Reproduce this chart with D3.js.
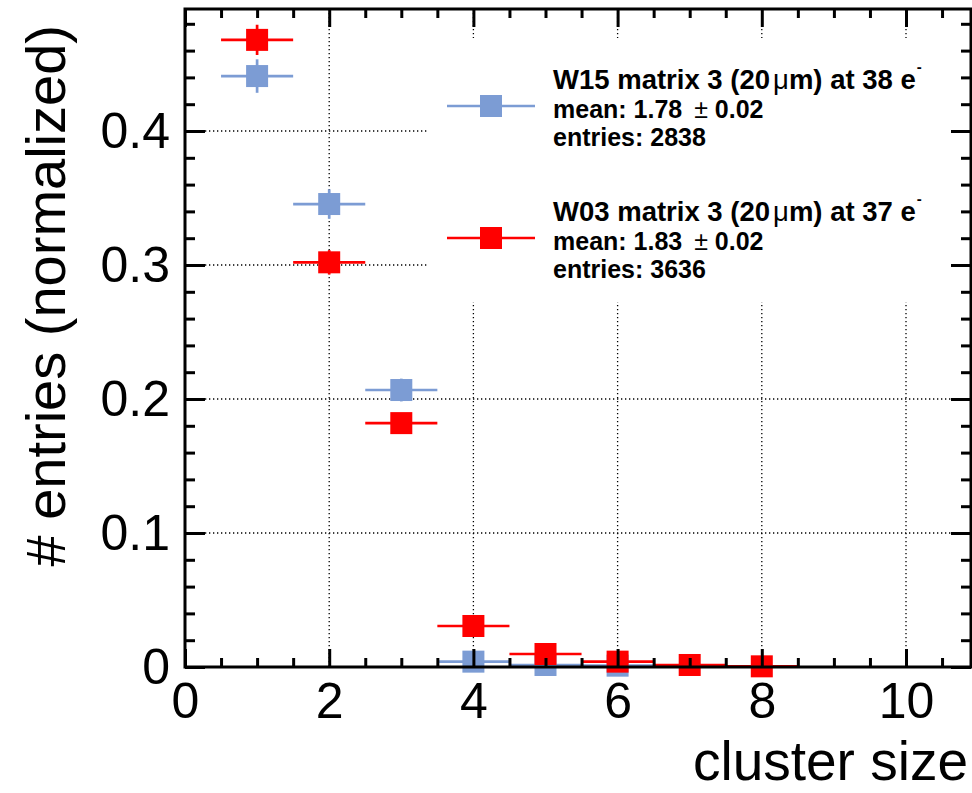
<!DOCTYPE html>
<html>
<head>
<meta charset="utf-8">
<script src="https://cdn.jsdelivr.net/npm/d3@7"></script>
<style>
  html, body { margin: 0; padding: 0; background: #fff; }
  svg { display: block; }
  text { font-family: "Liberation Sans", Arial, Helvetica, sans-serif; fill: #000; }
</style>
</head>
<body>
<div id="chart"></div>
<script>
// ---------------- data ----------------
const w15Sizes  = [1, 2, 3, 4, 5, 6];
const w15Values = [0.441, 0.3455, 0.2067, 0.0040, 0.0015, 0.0010];
const w15Errors = [0.0125, 0.0110, 0.0085, 0.0012, 0.0007, 0.0006];

const w03Sizes  = [1, 2, 3, 4, 5, 6, 7, 8];
const w03Values = [0.468, 0.302, 0.182, 0.0306, 0.0097, 0.0040, 0.0015, 0.0005];
const w03Errors = [0.0113, 0.0091, 0.0071, 0.0029, 0.0016, 0.0010, 0.0006, 0.0004];

const binHalfWidth = 0.5;

const xTickValues = [0, 2, 4, 6, 8, 10];
const xTickLabels = ["0", "2", "4", "6", "8", "10"];
const yTickValues = [0, 0.1, 0.2, 0.3, 0.4];
const yTickLabels = ["0", "0.1", "0.2", "0.3", "0.4"];

const seriesNames   = ["W15", "W03"];
const seriesCharge  = ["38", "37"];
const seriesMeans   = ["1.78", "1.83"];
const seriesMeanErr = ["0.02", "0.02"];
const seriesEntries = ["2838", "3636"];
const seriesColors  = ["#7c9cd4", "#ff0000"];

const xTitle = "cluster size";
const yTitle = "# entries (normalized)";

// ---------------- layout ----------------
const W = 972, H = 793;
const L = 185, R = 971, T = 9, B = 667;

const svg = d3.select("#chart").append("svg")
  .attr("width", W).attr("height", H);

const x = d3.scaleLinear().domain([0, (R - L) / 72.1]).range([L, R]);
const y = d3.scaleLinear().domain([0, (B - T) / 1340]).range([B, T]);

// grid
const grid = svg.append("g");
grid.selectAll("line.gx").data(xTickValues.filter(v => v > 0)).join("line")
  .attr("x1", d => x(d)).attr("x2", d => x(d)).attr("y1", T).attr("y2", B)
  .attr("stroke", "#000").attr("stroke-width", 1.3).attr("stroke-dasharray", "1.3,2.7");
grid.selectAll("line.gy").data(yTickValues.filter(v => v > 0)).join("line")
  .attr("y1", d => y(d)).attr("y2", d => y(d)).attr("x1", L).attr("x2", R)
  .attr("stroke", "#000").attr("stroke-width", 1.3).attr("stroke-dasharray", "1.3,2.7");

// legend background (hides grid)
svg.append("rect").attr("x", 428).attr("y", 38).attr("width", 527).attr("height", 264)
  .attr("fill", "#fff");

// ---------------- data marks ----------------
function drawSeries(sizes, values, errors, color) {
  const g = svg.append("g");
  const pts = sizes.map((s, i) => ({ s, v: values[i], e: errors[i] }));
  g.selectAll("line.h").data(pts).join("line")
    .attr("x1", d => x(d.s - binHalfWidth)).attr("x2", d => x(d.s + binHalfWidth))
    .attr("y1", d => y(d.v)).attr("y2", d => y(d.v))
    .attr("stroke", color).attr("stroke-width", 2.7);
  g.selectAll("line.v").data(pts).join("line")
    .attr("x1", d => x(d.s)).attr("x2", d => x(d.s))
    .attr("y1", d => y(d.v - d.e)).attr("y2", d => y(d.v + d.e))
    .attr("stroke", color).attr("stroke-width", 2.7);
  const m = 22;
  g.selectAll("rect").data(pts).join("rect")
    .attr("x", d => x(d.s) - m / 2).attr("y", d => y(d.v) - m / 2)
    .attr("width", m).attr("height", m).attr("fill", color);
}
drawSeries(w15Sizes, w15Values, w15Errors, seriesColors[0]);
drawSeries(w03Sizes, w03Values, w03Errors, seriesColors[1]);

// ---------------- axes ----------------
const xMinor = d3.range(0, 11, 0.5).filter(v => !xTickValues.includes(v));
const yMinor = d3.range(0, 0.5, 0.02).map(v => +v.toFixed(2)).filter(v => !yTickValues.includes(v) && y(v) > T);

function styleAxis(g) {
  g.select(".domain").remove();
  g.selectAll(".tick line").attr("stroke", "#000").attr("stroke-width", 3);
  g.selectAll(".tick text").attr("font-size", 50).attr("fill", "#000")
    .attr("font-family", "'Liberation Sans', Arial, Helvetica, sans-serif");
}

// bottom
svg.append("g").attr("transform", `translate(0,${B})`)
  .call(d3.axisBottom(x).tickValues(xTickValues).tickSizeInner(-18).tickSizeOuter(0).tickPadding(15)
    .tickFormat((d, i) => xTickLabels[i])).call(styleAxis);
svg.append("g").attr("transform", `translate(0,${B})`)
  .call(d3.axisBottom(x).tickValues(xMinor).tickSizeInner(-9).tickSizeOuter(0).tickFormat("")).call(styleAxis);
// top
svg.append("g").attr("transform", `translate(0,${T})`)
  .call(d3.axisTop(x).tickValues(xTickValues).tickSizeInner(-18).tickSizeOuter(0).tickFormat("")).call(styleAxis);
svg.append("g").attr("transform", `translate(0,${T})`)
  .call(d3.axisTop(x).tickValues(xMinor).tickSizeInner(-9).tickSizeOuter(0).tickFormat("")).call(styleAxis);
// left
svg.append("g").attr("transform", `translate(${L},0)`)
  .call(d3.axisLeft(y).tickValues(yTickValues).tickSizeInner(-20).tickSizeOuter(0).tickPadding(15)
    .tickFormat((d, i) => yTickLabels[i])).call(styleAxis);
svg.append("g").attr("transform", `translate(${L},0)`)
  .call(d3.axisLeft(y).tickValues(yMinor).tickSizeInner(-10).tickSizeOuter(0).tickFormat("")).call(styleAxis);
// right
svg.append("g").attr("transform", `translate(${R},0)`)
  .call(d3.axisRight(y).tickValues(yTickValues).tickSizeInner(-20).tickSizeOuter(0).tickFormat("")).call(styleAxis);
svg.append("g").attr("transform", `translate(${R},0)`)
  .call(d3.axisRight(y).tickValues(yMinor).tickSizeInner(-10).tickSizeOuter(0).tickFormat("")).call(styleAxis);

// frame
svg.append("rect").attr("x", L).attr("y", T).attr("width", R - L).attr("height", B - T)
  .attr("fill", "none").attr("stroke", "#000").attr("stroke-width", 3);

// titles
svg.append("text").attr("x", 968).attr("y", 780).attr("text-anchor", "end")
  .attr("font-size", 55).text(xTitle);
svg.append("text").attr("transform", "translate(65,25) rotate(-90)").attr("text-anchor", "end")
  .attr("font-size", 56).text(yTitle);

// ---------------- legend ----------------
const legTop = [89, 221];
seriesNames.forEach((name, i) => {
  const by = legTop[i];
  const my = by + 17;
  const lg = svg.append("g");
  lg.append("line").attr("x1", 447).attr("x2", 535).attr("y1", my).attr("y2", my)
    .attr("stroke", seriesColors[i]).attr("stroke-width", 2.7);
  lg.append("rect").attr("x", 491 - 11).attr("y", my - 11).attr("width", 22).attr("height", 22)
    .attr("fill", seriesColors[i]);

  const t1 = lg.append("text").attr("x", 553).attr("y", by).attr("font-size", 27.5).attr("font-weight", "bold");
  t1.append("tspan").text(`${name} matrix 3 (20`);
  t1.append("tspan").attr("dx", 3).attr("font-weight", "normal").text("\u03bc");
  t1.append("tspan").text(`m) at ${seriesCharge[i]} e`);
  t1.append("tspan").attr("dx", 1).attr("dy", -17).attr("font-size", 15).text("-");

  const t2 = lg.append("text").attr("x", 553).attr("y", by + 29).attr("font-size", 25).attr("font-weight", "bold");
  t2.append("tspan").text(`mean: ${seriesMeans[i]} `);
  t2.append("tspan").attr("dx", 5).attr("font-weight", "normal").text("\u00b1");
  t2.append("tspan").text(` ${seriesMeanErr[i]}`);

  lg.append("text").attr("x", 553).attr("y", by + 57).attr("font-size", 25).attr("font-weight", "bold")
    .text(`entries: ${seriesEntries[i]}`);
});
</script>
</body>
</html>
